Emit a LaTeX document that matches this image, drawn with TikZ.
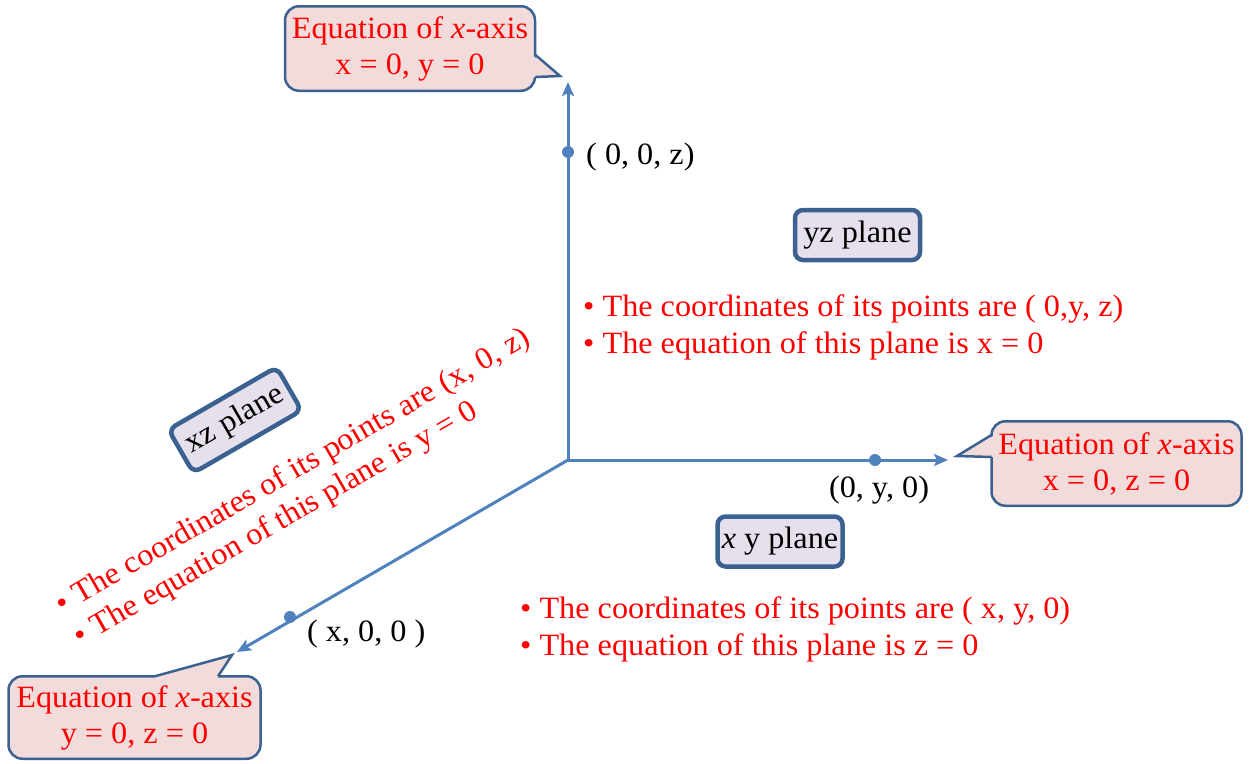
\documentclass[tikz,border=0pt]{standalone}
\usepackage{fontspec}
\setmainfont{Liberation Serif}[FakeStretch=1.04]
\usetikzlibrary{arrows.meta}
\definecolor{axisblue}{RGB}{79,129,189}
\definecolor{framed}{RGB}{59,97,144}
\definecolor{calloutfill}{RGB}{242,220,219}
\definecolor{planefill}{RGB}{230,224,236}
\begin{document}
\begin{tikzpicture}[x=1pt,y=-1pt,
  font=\fontsize{31}{36}\selectfont,
  axis/.style={draw=axisblue, line width=3pt, -{Stealth[length=14pt,width=12pt,inset=3pt]}},
  dot/.style={circle, fill=axisblue, inner sep=0pt, minimum size=12pt},
  coordlabel/.style={text=black, inner sep=0pt},
  planebox/.style={draw=framed, line width=4.5pt, fill=planefill, rounded corners=8pt,
                   minimum width=125pt, minimum height=50pt, inner sep=0pt},
  callout/.style={draw=framed, line width=2.5pt, fill=calloutfill, rounded corners=14pt,
                  text=red, align=center, minimum width=250pt, minimum height=84.5pt, inner sep=0pt},
  pointerfill/.style={fill=calloutfill},
  pointeredge/.style={draw=framed, line width=2.5pt, line join=miter},
  redtext/.style={text=red, inner sep=0pt, anchor=base west}
]
\useasboundingbox (0,0) rectangle (1250,763);

% axes
\coordinate (O) at (568,460);
\coordinate (ztip) at (568,82);
\coordinate (ytip) at (948,460);
\coordinate (xtip) at (237,652);
\draw[axis] (O) -- (ztip);
\draw[axis] (O) -- (ytip);
\draw[axis] (O) -- (xtip);
\node[dot] (zdot) at (568,152) {};
\node[dot] (ydot) at (875,460) {};
\node[dot] (xdot) at (290,617) {};

% coordinate labels
\node[coordlabel, anchor=base west] (zlab) at (586,164) {( 0, 0, z)};
\node[coordlabel, anchor=base] (ylab) at (879,497) {(0, y, 0)};
\node[coordlabel, anchor=base west] (xlab) at (307,641) {( x, 0, 0 )};

% plane boxes
\node[planebox] (yz) at (857.5,235) {yz plane};
\node[planebox] (xy) at (780,541.5) {\textit{x} y plane};
\node[planebox, rotate=30] (xz) at (235,420) {xz plane};

% red descriptions
\node[redtext] (yz1) at (583,316) {\textbullet\ The coordinates of its points are ( 0,y, z)};
\node[redtext] (yz2) at (583,353) {\textbullet\ The equation of this plane is x = 0};
\node[redtext] (xy1) at (520,618) {\textbullet\ The coordinates of its points are ( x, y, 0)};
\node[redtext] (xy2) at (520,655) {\textbullet\ The equation of this plane is z = 0};
\node[redtext, rotate=30] (xz1) at (62.4,614.5) {\textbullet\ The coordinates of its points are (x, 0, z)};
\node[redtext, rotate=30] (xz2) at (80.7,646.2) {\textbullet\ The equation of this plane is y = 0};

% callouts
\node[callout] (ctop) at (410,48.5) {Equation of \textit{x}-axis\\x = 0, y = 0};
\fill[pointerfill] (532,55) -- (560,76) -- (532,77) -- cycle;
\draw[pointeredge] (535.5,55) -- (560,76) -- (535.5,77);

\node[callout] (cright) at (1116.5,463.5) {Equation of \textit{x}-axis\\x = 0, z = 0};
\fill[pointerfill] (995,435) -- (957,456) -- (995,457) -- cycle;
\draw[pointeredge] (991.5,435) -- (957,456) -- (991.5,457);

\node[callout, minimum width=252pt, minimum height=82.5pt] (cleft) at (134.5,717.5) {Equation of \textit{x}-axis\\y = 0, z = 0};
\fill[pointerfill] (155,680) -- (155,676.25) -- (232,655) -- (218,676.25) -- (218,680) -- cycle;
\draw[pointeredge] (155,676.25) -- (232,655) -- (218,676.25);
\end{tikzpicture}
\end{document}
